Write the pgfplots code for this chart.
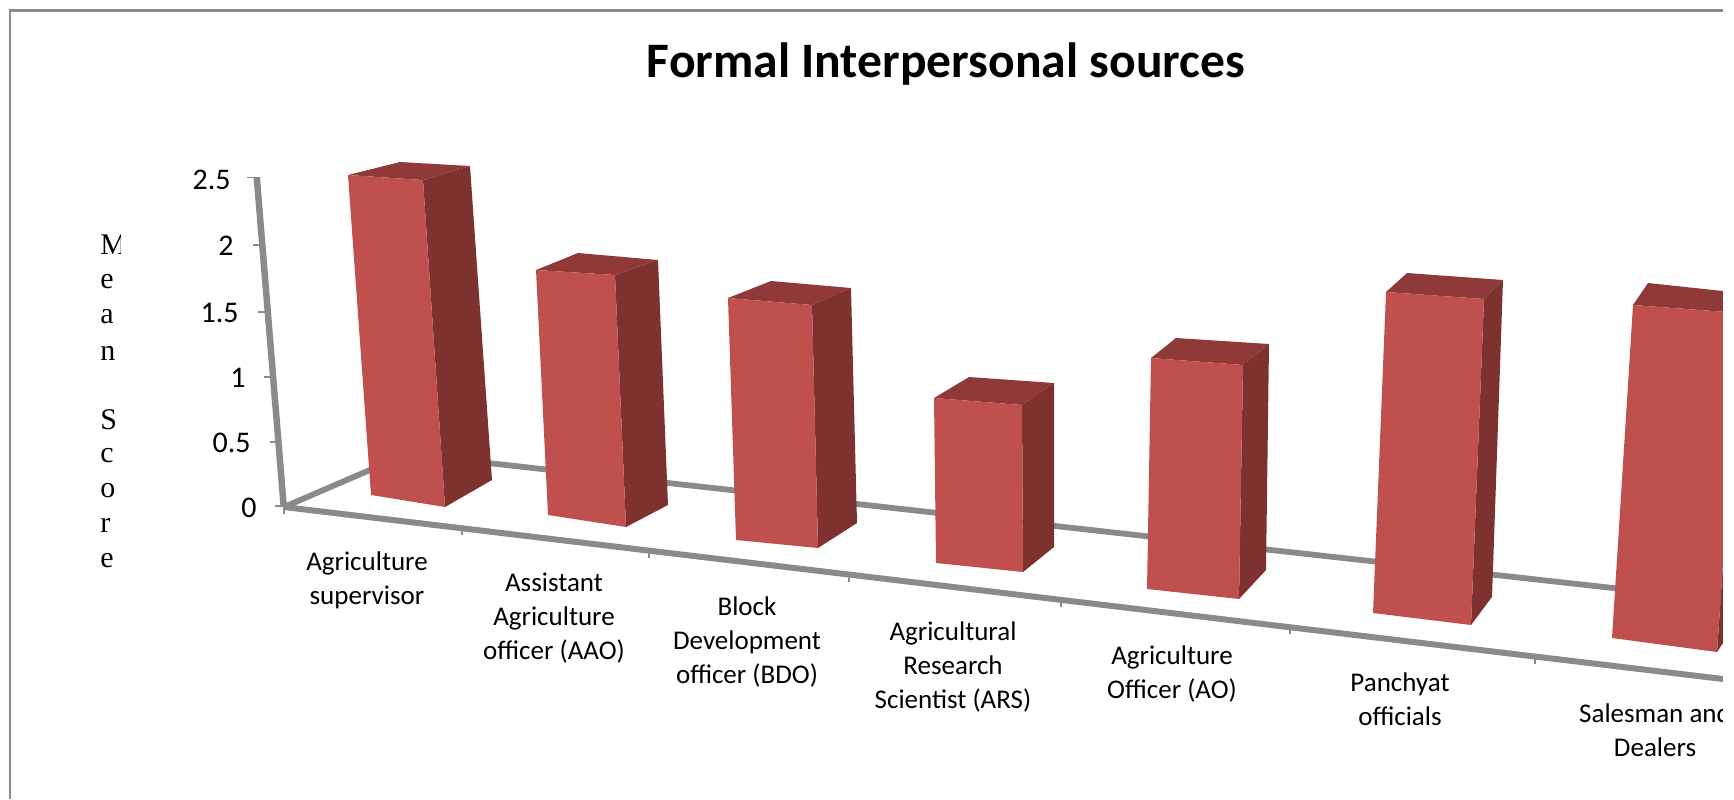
\documentclass[border=0pt]{standalone}
\usepackage{pgfplots}
\pgfplotsset{compat=1.18}
\usepackage{fontspec}
\setmainfont{Carlito}
\newfontfamily\seriff{Liberation Serif}
\definecolor{fr}{HTML}{C0504D}
\definecolor{sd}{HTML}{7D3230}
\definecolor{tp}{HTML}{8F3A38}
\definecolor{gr}{HTML}{8A8A8A}
% bar: front TL, TR, back right top, back left top, front BL, BR, side BR
\newcommand{\barbox}[7]{%
  \addplot[fill=tp,draw=none] coordinates {#1 #2 #3 #4} --cycle;
  \addplot[fill=sd,draw=none] coordinates {#2 #3 #7 #6} --cycle;
  \addplot[fill=fr,draw=none] coordinates {#1 #2 #6 #5} --cycle;
}
\begin{document}
\begin{tikzpicture}
\begin{axis}[scale only axis,width=867pt,height=399.5pt,xmin=0,xmax=1734,ymin=0,ymax=799,y dir=reverse,
  hide axis,clip=true]
% page extent
\addplot[fill=white,draw=none] coordinates {(0,0) (2,0) (2,799) (0,799)} --cycle;
% frame
\addplot[gr,line width=1.25pt] coordinates {(10,799) (10,10.5) (1723,10.5)};
% floor back lines
\addplot[gr,line width=2.9pt] coordinates {(284,507) (407,454) (1730,601)};
% front floor line and ticks
\addplot[gr,line width=3pt] coordinates {(284,507) (1723,679)};
\addplot[gr,line width=0.8pt,forget plot] coordinates {(284,507) (284,514)};
\addplot[gr,line width=0.8pt,forget plot] coordinates {(462,528) (462,535)};
\addplot[gr,line width=0.8pt,forget plot] coordinates {(649,551) (649,558)};
\addplot[gr,line width=0.8pt,forget plot] coordinates {(849,575) (849,582)};
\addplot[gr,line width=0.8pt,forget plot] coordinates {(1061,600) (1061,607)};
\addplot[gr,line width=0.8pt,forget plot] coordinates {(1290,627) (1290,634)};
\addplot[gr,line width=0.8pt,forget plot] coordinates {(1535,657) (1535,664)};
% y axis
\addplot[fill=gr,draw=none] coordinates {(253.5,177) (260,177) (287,507) (280.5,507)} --cycle;
\addplot[gr,line width=0.8pt] coordinates {(247,177.5) (257,177.5)};
\addplot[gr,line width=0.8pt] coordinates {(253,245) (263,245)};
\addplot[gr,line width=0.8pt] coordinates {(258,312) (268,312)};
\addplot[gr,line width=0.8pt] coordinates {(264,377) (274,377)};
\addplot[gr,line width=0.8pt] coordinates {(270,442) (280,442)};
\addplot[gr,line width=0.8pt] coordinates {(275,506) (285,506)};
% bars
\barbox{(348,175)}{(423,180)}{(470,166)}{(400,162)}{(371,495)}{(445,507)}{(492,480)}
\barbox{(536,270)}{(615,275)}{(658,260)}{(578,253)}{(548,515)}{(626,527)}{(668,505)}
\barbox{(728,298)}{(812,305)}{(851,288)}{(771,281)}{(736,540)}{(818,548)}{(857,523)}
\barbox{(934,398)}{(1022,405)}{(1054,383)}{(969,377)}{(936,563)}{(1023,572)}{(1054,547)}
\barbox{(1151,358)}{(1243,365)}{(1269,344)}{(1176,338)}{(1147,589)}{(1239,599)}{(1266,570)}
\barbox{(1386,292)}{(1484,299)}{(1503,280)}{(1407,273)}{(1373,613)}{(1471,625)}{(1492,597)}
\barbox{(1633,305)}{(1740,313)}{(1760,295)}{(1648,283)}{(1612,638)}{(1717,652)}{(1735,625)}
% title
\node[font=\bfseries\fontsize{24.8}{28}\selectfont] at (axis cs:946,64) {Formal Interpersonal sources};
% tick labels
\node[anchor=east,inner sep=0pt,font=\fontsize{15}{16}\selectfont] at (axis cs:231,180) {2.5};
\node[anchor=east,inner sep=0pt,font=\fontsize{15}{16}\selectfont] at (axis cs:234,246) {2};
\node[anchor=east,inner sep=0pt,font=\fontsize{15}{16}\selectfont] at (axis cs:239,313) {1.5};
\node[anchor=east,inner sep=0pt,font=\fontsize{15}{16}\selectfont] at (axis cs:246,378) {1};
\node[anchor=east,inner sep=0pt,font=\fontsize{15}{16}\selectfont] at (axis cs:251,443) {0.5};
\node[anchor=east,inner sep=0pt,font=\fontsize{15}{16}\selectfont] at (axis cs:257,508) {0};
% category labels
\node[align=center,inner sep=0pt,font=\fontsize{13.5}{17}\selectfont] at (axis cs:367,580) {Agriculture\\supervisor};
\node[align=center,inner sep=0pt,font=\fontsize{13.5}{17}\selectfont] at (axis cs:554,618) {Assistant\\Agriculture\\officer (AAO)};
\node[align=center,inner sep=0pt,font=\fontsize{13.5}{17}\selectfont] at (axis cs:747,642) {Block\\Development\\officer (BDO)};
\node[align=center,inner sep=0pt,font=\fontsize{13.5}{17}\selectfont] at (axis cs:953,667) {Agricultural\\Research\\Scientist (ARS)};
\node[align=center,inner sep=0pt,font=\fontsize{13.5}{17}\selectfont] at (axis cs:1172,674) {Agriculture\\Officer (AO)};
\node[align=center,inner sep=0pt,font=\fontsize{13.5}{17}\selectfont] at (axis cs:1400,699) {Panchyat\\officials};
\node[align=center,inner sep=0pt,font=\fontsize{13.5}{17}\selectfont] at (axis cs:1655,730) {Salesman and\\Dealers};
% stacked axis title
\node[anchor=west,inner sep=0pt,font=\seriff\fontsize{15}{16}\selectfont] at (axis cs:100,245) {M};
\node[anchor=west,inner sep=0pt,font=\seriff\fontsize{15}{16}\selectfont] at (axis cs:100,282) {e};
\node[anchor=west,inner sep=0pt,font=\seriff\fontsize{15}{16}\selectfont] at (axis cs:100,317) {a};
\node[anchor=west,inner sep=0pt,font=\seriff\fontsize{15}{16}\selectfont] at (axis cs:100,353) {n};
\node[anchor=west,inner sep=0pt,font=\seriff\fontsize{15}{16}\selectfont] at (axis cs:100,420) {S};
\node[anchor=west,inner sep=0pt,font=\seriff\fontsize{15}{16}\selectfont] at (axis cs:100,456) {c};
\node[anchor=west,inner sep=0pt,font=\seriff\fontsize{15}{16}\selectfont] at (axis cs:100,491) {o};
\node[anchor=west,inner sep=0pt,font=\seriff\fontsize{15}{16}\selectfont] at (axis cs:100,525) {r};
\node[anchor=west,inner sep=0pt,font=\seriff\fontsize{15}{16}\selectfont] at (axis cs:100,561) {e};
% clipped edges
\addplot[fill=white,draw=none] coordinates {(120.5,225) (132,225) (132,262) (120.5,262)} --cycle;
\addplot[fill=white,draw=none] coordinates {(1723,0) (1734,0) (1734,799) (1723,799)} --cycle;
\end{axis}
\end{tikzpicture}
\end{document}
